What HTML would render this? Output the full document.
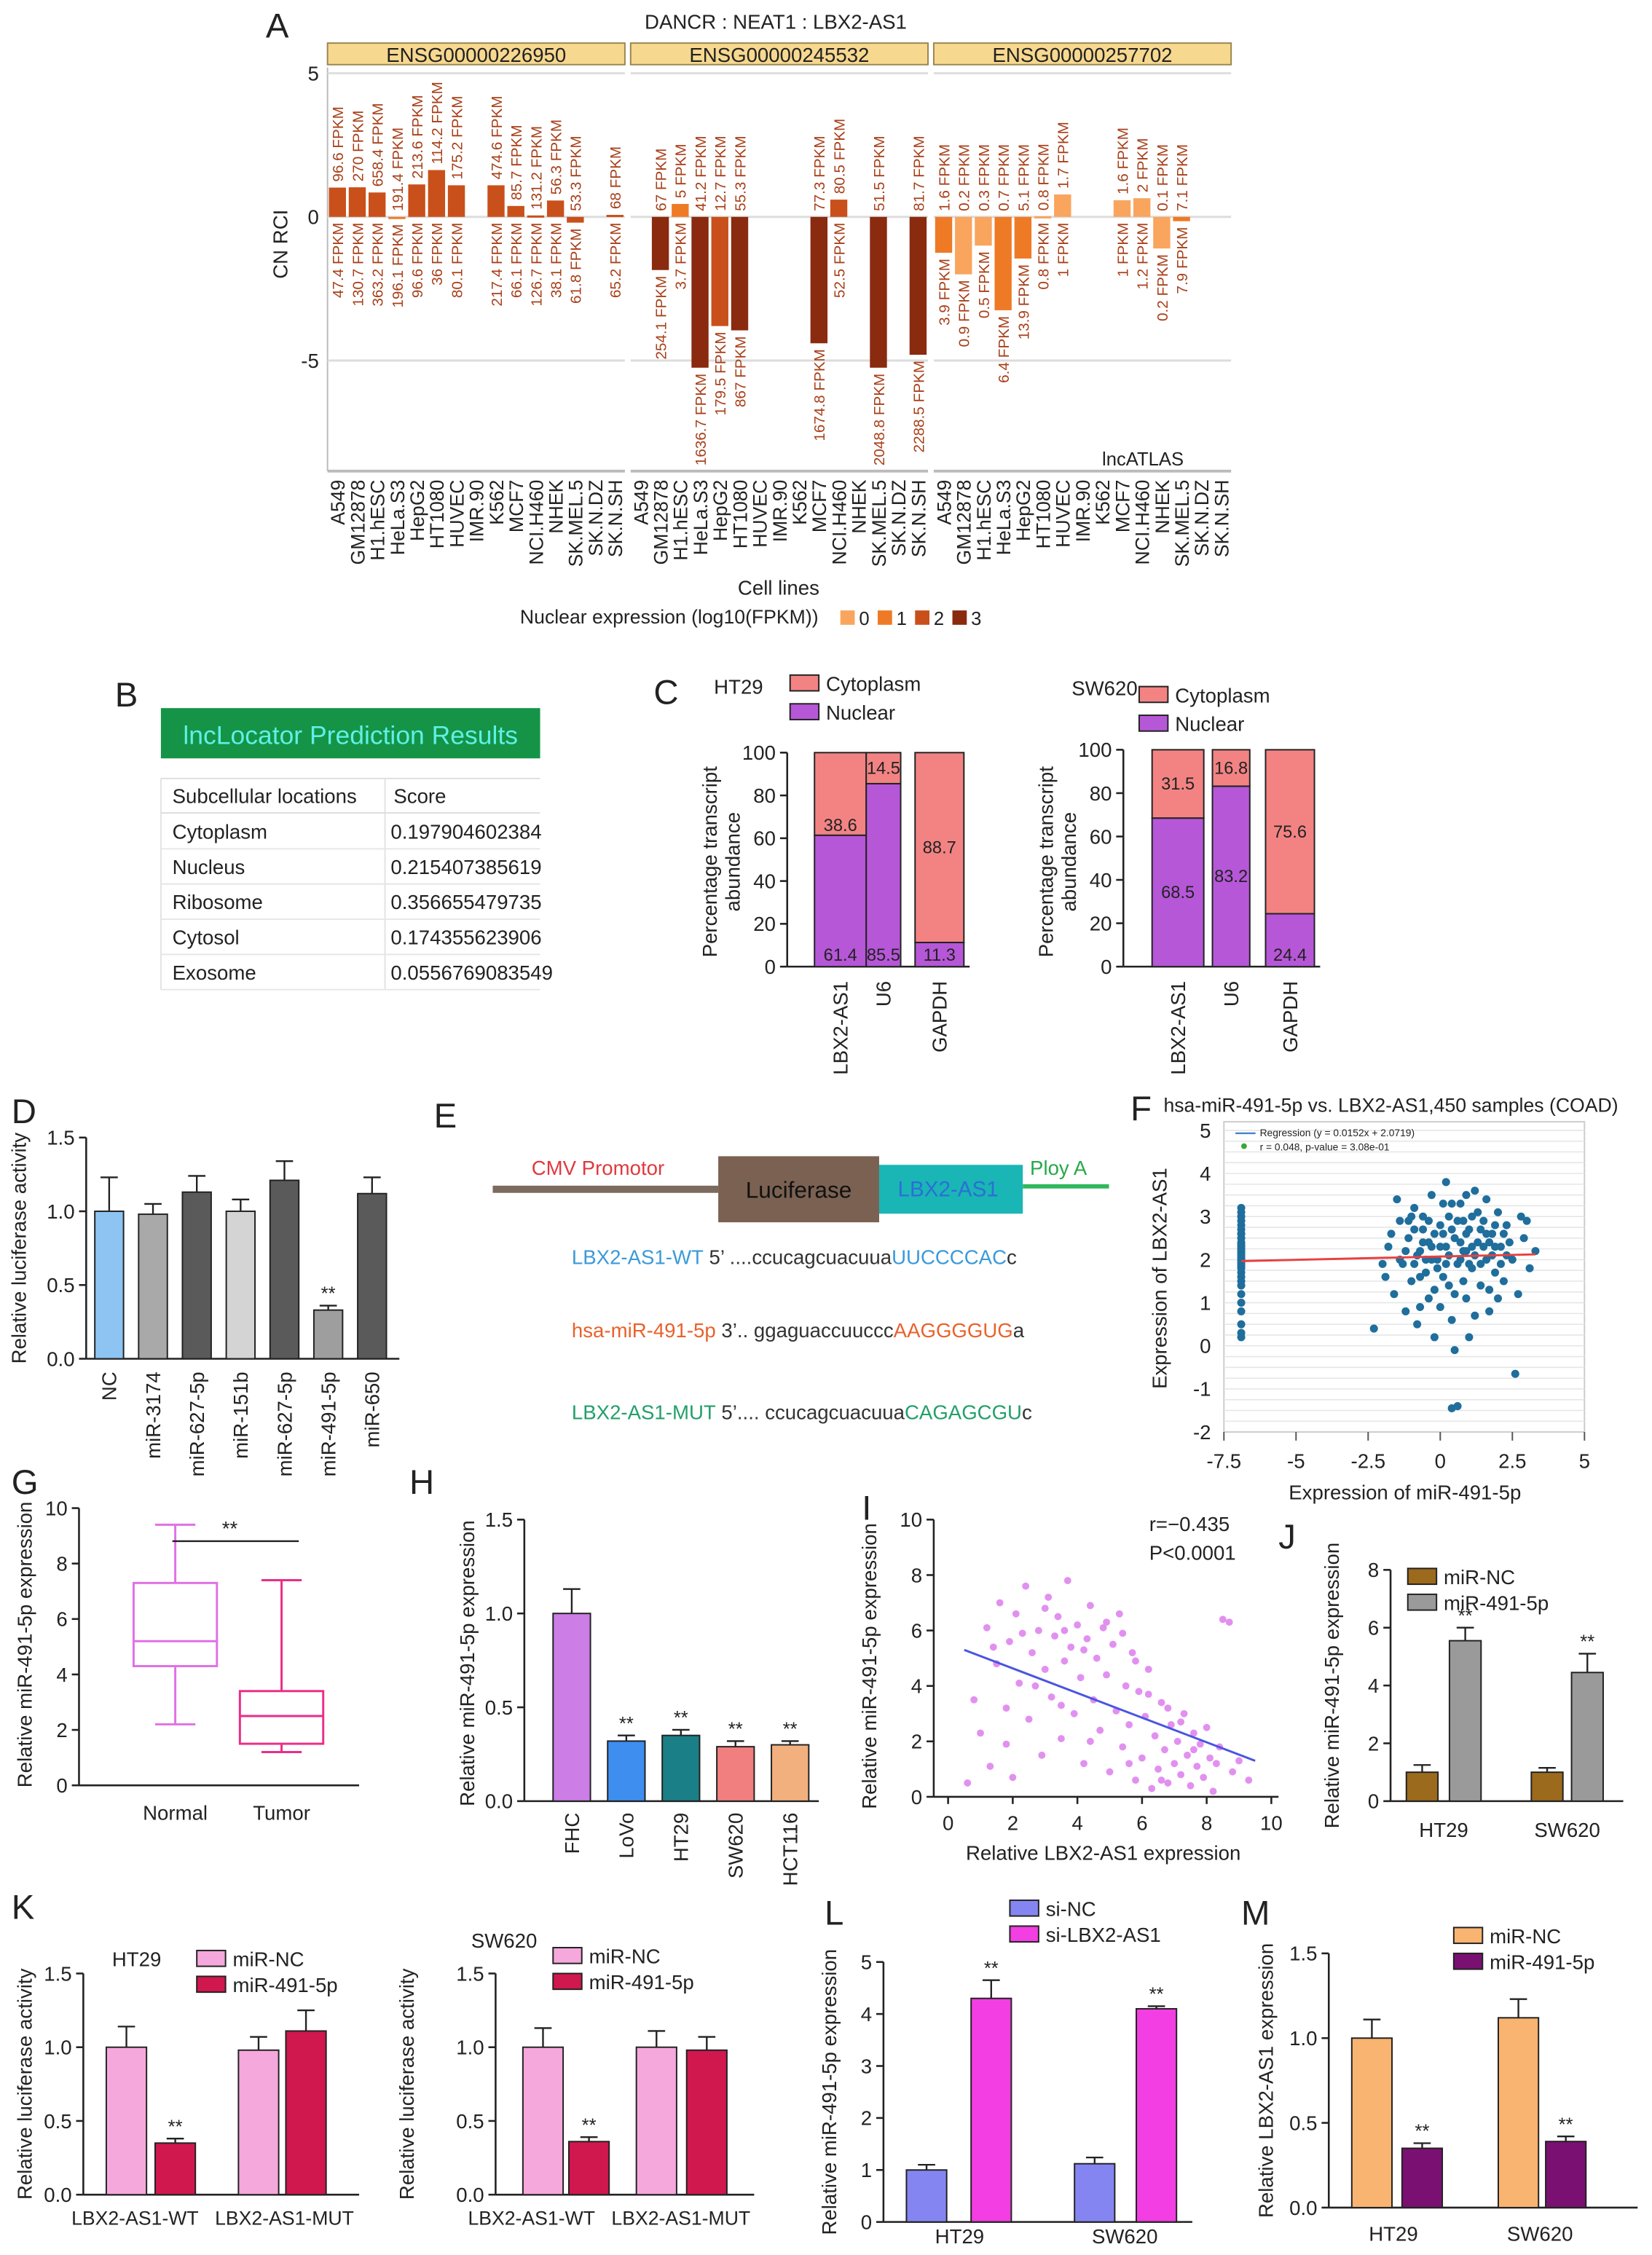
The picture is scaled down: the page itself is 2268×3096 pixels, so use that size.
<!DOCTYPE html>
<html><head><meta charset="utf-8">
<style>
html,body{margin:0;padding:0;background:#fff;}
svg{display:block;font-family:"Liberation Sans",Arial,sans-serif;}
</style></head>
<body>
<svg id="fig" width="2268" height="3096" viewBox="0 0 1150 1570" preserveAspectRatio="none" xmlns="http://www.w3.org/2000/svg">
<rect x="0" y="0" width="1150" height="1570" fill="#fff"/>
</svg>
<script>
// ---------- Panel A data ----------
const aCells = ["A549","GM12878","H1.hESC","HeLa.S3","HepG2","HT1080","HUVEC","IMR.90","K562","MCF7","NCI.H460","NHEK","SK.MEL.5","SK.N.DZ","SK.N.SH"];
const aGenes = ["ENSG00000226950","ENSG00000245532","ENSG00000257702"];
const aVals1 = [1.02,1.03,0.85,-0.05,1.13,1.63,1.1,null,1.1,0.38,0.05,0.57,-0.2,null,0.07];
const aVals2 = [null,-1.85,0.45,-5.25,-3.8,-3.95,null,null,null,-4.4,0.6,null,-5.25,null,-4.8];
const aVals3 = [-1.25,-2.0,-1.0,-3.25,-1.45,0.02,0.78,null,null,0.58,0.65,-1.1,-0.15,null,null];
const aLvl1 = [2,2,2,1,2,2,2,0,2,2,2,2,2,0,2];
const aLvl2 = [0,3,1,3,2,3,0,0,0,3,2,0,3,0,3];
const aLvl3 = [1,0,0,1,1,0,0,0,0,0,0,0,1,0,0];
const aTop1 = ["96.6","270","658.4","191.4","213.6","114.2","175.2","","474.6","85.7","131.2","56.3","53.3","","68"];
const aBot1 = ["47.4","130.7","363.2","196.1","96.6","36","80.1","","217.4","66.1","126.7","38.1","61.8","","65.2"];
const aTop2 = ["","67","5","41.2","12.7","55.3","","","","77.3","80.5","","51.5","","81.7"];
const aBot2 = ["","254.1","3.7","1636.7","179.5","867","","","","1674.8","52.5","","2048.8","","2288.5"];
const aTop3 = ["1.6","0.2","0.3","0.7","5.1","0.8","1.7","","","1.6","2","0.1","7.1","",""];
const aBot3 = ["3.9","0.9","0.5","6.4","13.9","0.8","1","","","1","1.2","0.2","7.9","",""];
const aLevelColors = ["#f9a55e","#ee7a26","#c9501a","#8a2a0f"];
const aYTicks = [5,0,-5];

// ---------- Panel B ----------
const bLocs = ["Cytoplasm","Nucleus","Ribosome","Cytosol","Exosome"];
const bScores = ["0.197904602384","0.215407385619","0.356655479735","0.174355623906","0.0556769083549"];

// ---------- Panel C ----------
const cCats = ["LBX2-AS1","U6","GAPDH"];
const cNucHT29 = [61.4,85.5,11.3];
const cNucSW620 = [68.5,83.2,24.4];
const cTicks = [0,20,40,60,80,100];

// ---------- Panel D ----------
const dCats = ["NC","miR-3174","miR-627-5p","miR-151b","miR-627-5p","miR-491-5p","miR-650"];
const dVals = [1.0,0.98,1.13,1.0,1.21,0.33,1.12];
const dErrs = [0.23,0.07,0.11,0.08,0.13,0.03,0.11];
const dColors = ["#8dc4f2","#a9a9a9","#5a5a5a","#d4d4d4","#5a5a5a","#9e9e9e","#5a5a5a"];
const dTicks = [0,0.5,1.0,1.5];

// ---------- Panel F ----------
const fColumnX = -6.9;
const fColumnY = [3.2,3.0,2.9,2.8,2.7,2.6,2.5,2.4,2.3,2.25,2.2,2.15,2.1,2.05,2.0,1.95,1.9,1.85,1.8,1.7,1.6,1.5,1.4,1.2,1.0,0.8,0.5,0.3,0.2,3.1,2.6,2.35];
const fPoints = [[-2.3,0.4],[-1.8,2.3],[-1.6,1.2],[-1.4,2.9],[-1.3,1.9],[-1.1,2.5],[-1.0,1.5],[-0.9,3.2],[-0.8,2.1],[-0.7,0.9],[-0.6,2.7],[-0.5,1.7],[-0.4,2.4],[-0.3,3.5],[-0.2,1.3],[-0.1,2.0],[0,2.8],[0.1,1.6],[0.2,2.3],[0.3,3.0],[0.4,0.6],[0.5,2.5],[0.6,1.9],[0.7,3.3],[0.8,2.2],[0.9,1.1],[1.0,2.7],[1.1,1.8],[1.2,3.6],[1.3,2.4],[1.4,1.4],[1.5,2.9],[1.6,2.0],[1.7,0.8],[1.8,2.6],[1.9,1.7],[2.0,3.1],[2.1,2.3],[2.2,1.5],[2.3,2.8],[2.5,2.0],[2.7,1.2],[2.9,2.5],[3.1,1.8],[3.3,2.2],[-1.5,3.4],[-0.8,0.5],[0.2,3.8],[0.5,-0.1],[1.0,0.2],[0.4,-1.45],[0.6,-1.4],[2.6,-0.65],[-0.6,3.0],[-0.2,2.6],[0.3,1.4],[0.8,1.5],[1.3,3.1],[1.8,2.1],[-1.2,2.2],[-0.4,1.1],[0.1,2.6],[0.6,2.9],[1.1,2.3],[1.6,2.6],[2.1,1.9],[-0.9,2.7],[-0.1,1.8],[0.9,3.5],[1.4,1.9],[2.4,2.4],[-2.0,1.9],[-1.7,2.6],[0.0,0.9],[1.2,0.7],[2.8,3.0],[-0.3,2.3],[0.7,2.0],[1.5,2.3],[1.9,2.8],[0.3,2.1],[-0.5,2.0],[0.9,2.6],[1.7,1.3],[-1.0,3.0],[0.4,3.3],[2.2,2.6],[1.0,1.9],[-0.7,1.6],[0.5,1.2],[-1.9,1.6],[-1.2,0.8],[0.1,3.3],[1.1,3.0],[2.0,1.1],[3.0,2.9],[-0.2,0.2],[1.6,3.4],[-0.6,2.4],[0.8,2.9],[-1.4,2.0],[-0.9,1.9],[-0.3,2.0],[0.2,1.9],[0.7,2.4],[1.2,2.1],[1.7,2.4],[2.3,2.1],[-1.1,2.9],[0.4,2.7],[1.4,2.7],[-0.4,2.9],[0.9,2.2],[1.9,2.3],[-0.7,2.2],[0.0,2.3]];
const fSlope = 0.0152, fIntercept = 2.0719;
const fYTicks = [5,4,3,2,1,0,-1,-2];
const fXTicks = [-7.5,-5,-2.5,0,2.5,5];

// ---------- Panel G ----------
const gCats = ["Normal","Tumor"];
const gNormal = [2.2,4.3,5.2,7.3,9.4];
const gTumor = [1.2,1.5,2.5,3.4,7.4];
const gTicks = [0,2,4,6,8,10];

// ---------- Panel H ----------
const hCats = ["FHC","LoVo","HT29","SW620","HCT116"];
const hVals = [1.0,0.32,0.35,0.29,0.3];
const hErrs = [0.13,0.03,0.03,0.03,0.02];
const hColors = ["#cc7de6","#3e8ef0","#1a7f86","#f27f7f","#f2b07e"];
const hTicks = [0,0.5,1.0,1.5];

// ---------- Panel I ----------
const iPoints = [[0.6,0.5],[1.0,2.3],[1.2,6.1],[1.3,1.1],[1.5,4.8],[1.6,7.0],[1.8,3.2],[1.9,5.6],[2.0,0.7],[2.1,6.6],[2.2,4.1],[2.4,7.6],[2.5,2.8],[2.6,5.2],[2.8,6.0],[2.9,1.5],[3.0,4.6],[3.1,7.2],[3.2,3.6],[3.3,5.8],[3.4,6.5],[3.5,2.1],[3.6,4.9],[3.7,7.8],[3.8,5.4],[3.9,3.0],[4.0,6.2],[4.1,4.3],[4.2,1.2],[4.3,5.7],[4.4,6.9],[4.5,3.5],[4.6,5.0],[4.7,2.4],[4.8,6.1],[4.9,4.4],[5.0,0.9],[5.1,5.5],[5.2,3.1],[5.3,6.6],[5.4,1.8],[5.5,4.0],[5.6,2.6],[5.7,5.2],[5.8,0.6],[5.9,3.8],[6.0,1.4],[6.1,2.9],[6.2,4.6],[6.3,0.3],[6.4,2.2],[6.5,1.0],[6.6,3.4],[6.7,1.7],[6.8,0.5],[6.9,2.6],[7.0,1.2],[7.1,2.0],[7.2,0.8],[7.3,3.0],[7.4,1.5],[7.5,0.4],[7.6,2.3],[7.7,1.1],[7.8,1.9],[7.9,0.7],[8.0,2.5],[8.1,1.4],[8.2,0.2],[8.4,1.8],[8.5,6.4],[8.7,6.3],[8.8,0.9],[9.0,1.3],[9.3,0.6],[2.3,5.9],[3.0,6.8],[3.6,6.0],[4.2,5.3],[4.9,6.3],[5.4,5.9],[5.8,4.9],[6.2,3.7],[6.8,3.2],[7.2,2.7],[1.4,5.4],[2.7,4.0],[3.5,3.3],[4.4,2.0],[5.6,1.2],[6.6,0.6],[7.6,1.7],[8.3,1.2],[0.8,3.5],[1.8,1.9]];
const iLine = [[0.5,5.3],[9.5,1.3]];
const iTicks = [0,2,4,6,8,10];

// ---------- Panel J ----------
const jCats = ["HT29","SW620"];
const jNC = [1.0,1.0], jNCErr = [0.25,0.15];
const jMiR = [5.55,4.45], jMiRErr = [0.45,0.65];
const jTicks = [0,2,4,6,8];

// ---------- Panel K ----------
const kCats = ["LBX2-AS1-WT","LBX2-AS1-MUT"];
const kHT29NC = [1.0,0.98], kHT29NCErr = [0.14,0.09];
const kHT29MiR = [0.35,1.11], kHT29MiRErr = [0.03,0.14];
const kSWNC = [1.0,1.0], kSWNCErr = [0.13,0.11];
const kSWMiR = [0.36,0.98], kSWMiRErr = [0.03,0.09];
const kTicks = [0,0.5,1.0,1.5];

// ---------- Panel L ----------
const lCats = ["HT29","SW620"];
const lNC = [1.0,1.12], lNCErr = [0.1,0.12];
const lSi = [4.3,4.1], lSiErr = [0.35,0.05];
const lTicks = [0,1,2,3,4,5];

// ---------- Panel M ----------
const mCats = ["HT29","SW620"];
const mNC = [1.0,1.12], mNCErr = [0.11,0.11];
const mMiR = [0.35,0.39], mMiRErr = [0.03,0.03];
const mTicks = [0,0.5,1.0,1.5];

// ================= helpers =================
const NS = 'http://www.w3.org/2000/svg';
const svg = document.getElementById('fig');
function mk(tag, attrs, name) {
  const el = document.createElementNS(NS, tag);
  for (const k in attrs) el.setAttribute(k, attrs[k]);
  
  
  svg.appendChild(el);
  return el;
}
function txt(x, y, s, o, name) {
  o = o || {};
  const a = {x: x, y: y, 'font-size': o.size || 13, fill: o.fill || '#222', 'text-anchor': o.anchor || 'start'};
  if (o.weight) a['font-weight'] = o.weight;
  if (o.rot !== undefined) a.transform = 'rotate(' + o.rot + ' ' + x + ' ' + y + ')';
  const el = mk('text', a, name);
  el.textContent = s;
  return el;
}
function line(x1, y1, x2, y2, stroke, w, name, dash) {
  const a = {x1: x1, y1: y1, x2: x2, y2: y2, stroke: stroke, 'stroke-width': w};
  if (dash) a['stroke-dasharray'] = dash;
  return mk('line', a, name);
}
function scale(d0, d1, r0, r1) { return v => r0 + (v - d0) / (d1 - d0) * (r1 - r0); }
function yAxis(x, sy, ticks, fmt, name) {
  line(x, sy(ticks[0]), x, sy(ticks[ticks.length - 1]), '#222', 1.3, name + '-line');
  ticks.forEach(t => {
    line(x - 5, sy(t), x, sy(t), '#222', 1.3, name + '-tick');
    txt(x - 8, sy(t) + 5, fmt(t), {anchor: 'end', size: 14}, name + '-tick-label');
  });
}
function bar(cx, w, sy, v, color, name) {
  const y0 = sy(0), y1 = sy(v);
  return mk('rect', {x: cx - w / 2, y: Math.min(y0, y1), width: w, height: Math.abs(y0 - y1), fill: color, stroke: '#222', 'stroke-width': 1}, name);
}
function err(cx, sy, v, e, name) {
  line(cx, sy(v), cx, sy(v + e), '#222', 1.2, name);
  line(cx - 6, sy(v + e), cx + 6, sy(v + e), '#222', 1.2, name + '-cap');
}
function legendBox(x, y, color, label, name) {
  mk('rect', {x: x, y: y, width: 20, height: 11, fill: color, stroke: '#222', 'stroke-width': 1}, name + '-swatch');
  txt(x + 25, y + 11, label, {size: 14}, name + '-label');
}
function panelLetter(x, y, s) { txt(x, y, s, {size: 24}, 'panel-label-' + s.toLowerCase()); }
const fmt1 = t => t.toFixed(1);
const fmt0 = t => String(t);

// ================= Panel A =================
panelLetter(185, 26, 'A');
txt(540, 20, 'DANCR : NEAT1 : LBX2-AS1', {anchor: 'middle', size: 14}, 'panel-a-title');
const aGroupX = [228, 439, 650], aGroupW = 207, aSlot = aGroupW / 15;
const aY = scale(0, 5, 151, 51);
const aValsAll = [aVals1, aVals2, aVals3], aLvlAll = [aLvl1, aLvl2, aLvl3];
const aTopAll = [aTop1, aTop2, aTop3], aBotAll = [aBot1, aBot2, aBot3];
line(228, 47, 228, 328, '#bbb', 1, 'panel-a-left-border');
aYTicks.forEach(t => {
  txt(222, aY(t) + 5, String(t), {anchor: 'end', size: 14}, 'panel-a-y-tick-label');
});
txt(200, 170, 'CN RCI', {anchor: 'middle', size: 14, rot: -90}, 'panel-a-y-axis-title');
aGenes.forEach((g, gi) => {
  const gx = aGroupX[gi];
  mk('rect', {x: gx, y: 30, width: aGroupW, height: 15, fill: '#f7d88f', stroke: '#9a8650', 'stroke-width': 1}, 'gene-header');
  txt(gx + aGroupW / 2, 43, g, {anchor: 'middle', size: 14}, 'gene-header-label');
  line(gx, aY(5), gx + aGroupW, aY(5), '#ddd', 1.5, 'grid-line-5');
  line(gx, aY(0), gx + aGroupW, aY(0), '#ddd', 1.5, 'grid-line-0');
  line(gx, aY(-5), gx + aGroupW, aY(-5), '#ddd', 1.5, 'grid-line-minus5');
  line(gx, 328, gx + aGroupW, 328, '#bbb', 2, 'panel-a-x-axis');
  aCells.forEach((c, ci) => {
    const cx = gx + (ci + 0.5) * aSlot;
    const v = aValsAll[gi][ci];
    if (v !== null) {
      const y0 = aY(0), y1 = aY(v);
      mk('rect', {x: cx - aSlot * 0.43, y: Math.min(y0, y1), width: aSlot * 0.86, height: Math.max(1.5, Math.abs(y0 - y1)), fill: aLevelColors[aLvlAll[gi][ci]]}, 'bar-' + c.toLowerCase());
      const tl = aTopAll[gi][ci], bl = aBotAll[gi][ci];
      if (tl) txt(cx + 4, aY(Math.max(v, 0)) - 4, tl + ' FPKM', {size: 10.5, fill: '#a8401a', rot: -90}, 'top-fpkm-label');
      if (bl) txt(cx + 4, aY(Math.min(v, 0)) + 4, bl + ' FPKM', {size: 10.5, fill: '#a8401a', rot: -90, anchor: 'end'}, 'bottom-fpkm-label');
    }
    txt(cx + 5, 334, c, {size: 13.5, rot: -90, anchor: 'end'}, 'cell-line-label');
  });
});
txt(824, 324, 'lncATLAS', {anchor: 'end', size: 13}, 'lncatlas-watermark');
txt(542, 414, 'Cell lines', {anchor: 'middle', size: 14}, 'panel-a-x-axis-title');
txt(362, 434, 'Nuclear expression (log10(FPKM))', {size: 13.5}, 'panel-a-legend-title');
aLevelColors.forEach((col, i) => {
  mk('rect', {x: 585 + i * 26, y: 425, width: 10, height: 10, fill: col}, 'legend-swatch-level-' + i);
  txt(598 + i * 26, 435, String(i), {size: 13}, 'legend-level-label');
});

// ================= Panel B =================
panelLetter(80, 492, 'B');
mk('rect', {x: 112, y: 493, width: 264, height: 35, fill: '#159447'}, 'lnclocator-banner');
txt(244, 518, 'lncLocator Prediction Results', {anchor: 'middle', size: 18, fill: '#5ff0e6'}, 'lnclocator-banner-title');
line(112, 542, 376, 542, '#ddd', 1, 'table-top-border');
line(268, 542, 268, 689, '#e3e3e3', 1, 'table-column-divider');
line(112, 542, 112, 689, '#e3e3e3', 1, 'table-left-border');
txt(120, 559, 'Subcellular locations', {size: 14}, 'table-header-location');
txt(274, 559, 'Score', {size: 14}, 'table-header-score');
line(112, 566, 376, 566, '#ddd', 1, 'table-header-divider');
bLocs.forEach((loc, i) => {
  const y = 584 + i * 24.5;
  txt(120, y, loc, {size: 14}, 'table-row-location');
  txt(272, y, bScores[i], {size: 14}, 'table-row-score');
  line(112, y + 7, 376, y + 7, '#e6e6e6', 1, 'table-row-divider');
});

// ================= Panel C =================
panelLetter(455, 490, 'C');
function stacked(ax, yTop, centers, widths, nuc, label, legX, legY, titleX, titleY, ylabX, nucBottom) {
  const sy = scale(0, 100, 673, yTop);
  yAxis(ax, sy, cTicks, fmt0, label + '-y-axis');
  line(ax, 673, centers[2] + widths[2] / 2 + 4, 673, '#222', 1.3, label + '-x-axis');
  cCats.forEach((c, i) => {
    const cx = centers[i], w = widths[i];
    const cyto = 100 - nuc[i];
    mk('rect', {x: cx - w / 2, y: sy(nuc[i]), width: w, height: sy(0) - sy(nuc[i]), fill: '#b657d8', stroke: '#222', 'stroke-width': 1}, label + '-nuclear-bar');
    mk('rect', {x: cx - w / 2, y: sy(100), width: w, height: sy(nuc[i]) - sy(100), fill: '#f38383', stroke: '#222', 'stroke-width': 1}, label + '-cytoplasm-bar');
    const ny = (nucBottom || nuc[i] < 30) ? sy(0) - 4 : sy(nuc[i] / 2) + 4;
    txt(cx, ny, nuc[i].toFixed(1), {anchor: 'middle', size: 12}, label + '-nuclear-value');
    const cyy = (nucBottom && cyto > 25 && cyto < 50) ? sy(nuc[i]) - 3 : sy(nuc[i] + cyto / 2) + 4;
    txt(cx, cyy, cyto.toFixed(1), {anchor: 'middle', size: 12}, label + '-cytoplasm-value');
    txt(cx + 5, 683, c, {size: 14, rot: -90, anchor: 'end'}, label + '-category-label');
  });
  txt(titleX, titleY, label, {size: 14}, label + '-title');
  legendBox(legX, legY, '#f38383', 'Cytoplasm', label + '-legend-cytoplasm');
  legendBox(legX, legY + 20, '#b657d8', 'Nuclear', label + '-legend-nuclear');
  txt(ylabX, 600, 'Percentage transcript', {anchor: 'middle', size: 14, rot: -90}, label + '-y-axis-title');
  txt(ylabX + 16, 600, 'abundance', {anchor: 'middle', size: 14, rot: -90}, label + '-y-axis-title-2');
}
stacked(548, 524, [585, 615, 654], [36, 24, 34], cNucHT29, 'HT29', 550, 470, 497, 483, 499, true);
stacked(782, 522, [820, 857, 898], [36, 26, 34], cNucSW620, 'SW620', 793, 478, 746, 484, 733, false);

// ================= Panel D =================
panelLetter(8, 782, 'D');
const dY = scale(0, 1.5, 946, 792);
yAxis(60, dY, dTicks, fmt1, 'panel-d-y-axis');
line(60, 946, 278, 946, '#222', 1.3, 'panel-d-x-axis');
dCats.forEach((c, i) => {
  const cx = 76 + i * 30.5;
  bar(cx, 20, dY, dVals[i], dColors[i], 'panel-d-bar');
  err(cx, dY, dVals[i], dErrs[i], 'panel-d-error-bar');
  txt(cx + 5, 955, c, {size: 14, rot: -90, anchor: 'end'}, 'panel-d-category-label');
});
txt(76 + 5 * 30.5, dY(0.33 + 0.03) - 4, '**', {anchor: 'middle', size: 13}, 'panel-d-significance');
txt(18, 869, 'Relative luciferase activity', {anchor: 'middle', size: 14, rot: -90}, 'panel-d-y-axis-title');

// ================= Panel E =================
panelLetter(302, 785, 'E');
line(343, 828, 500, 828, '#7d6a5e', 5, 'cmv-promoter-line');
txt(370, 818, 'CMV Promotor', {size: 14, fill: '#e0393e'}, 'cmv-promoter-label');
mk('rect', {x: 500, y: 805, width: 112, height: 46, fill: '#7a6152'}, 'luciferase-box');
txt(556, 834, 'Luciferase', {anchor: 'middle', size: 16, fill: '#111'}, 'luciferase-label');
mk('rect', {x: 612, y: 811, width: 100, height: 34, fill: '#1ab5b5'}, 'lbx2-as1-box');
txt(660, 833, 'LBX2-AS1', {anchor: 'middle', size: 15, fill: '#2a6fd6'}, 'lbx2-as1-box-label');
line(712, 826, 772, 826, '#2fb85a', 3, 'poly-a-line');
txt(717, 818, 'Ploy A', {size: 14, fill: '#28a84a'}, 'poly-a-label');
function seq(y, parts, name) {
  const t = mk('text', {x: 398, y: y, 'font-size': 14}, name);
  parts.forEach(p => {
    const s = document.createElementNS(NS, 'tspan');
    s.setAttribute('fill', p[1]);
    
    
    s.textContent = p[0];
    t.appendChild(s);
  });
}
seq(880, [['LBX2-AS1-WT', '#3a9ad9'], [' 5\u2019 ....ccucagcuacuua', '#333'], ['UUCCCCAC', '#3a9ad9'], ['c', '#333']], 'wt-sequence');
seq(931, [['hsa-miR-491-5p', '#e8622c'], [' 3\u2019.. ggaguaccuuccc', '#333'], ['AAGGGGUG', '#e8622c'], ['a', '#333']], 'mirna-sequence');
seq(988, [['LBX2-AS1-MUT', '#22a06a'], [' 5\u2019.... ccucagcuacuua', '#333'], ['CAGAGCGU', '#22a06a'], ['c', '#333']], 'mut-sequence');

// ================= Panel F =================
panelLetter(787, 780, 'F');
txt(810, 774, 'hsa-miR-491-5p vs. LBX2-AS1,450 samples (COAD)', {size: 13.5}, 'panel-f-title');
const fX = scale(-7.5, 5, 852, 1103), fY = scale(-2, 5, 997, 787);
mk('rect', {x: 852, y: 781, width: 251, height: 216, fill: '#fff', stroke: '#ccc', 'stroke-width': 1}, 'panel-f-plot-area');
for (let g = 0; g < 28; g++) line(852, 787 + g * 7.5, 1103, 787 + g * 7.5, '#e6e6e6', 0.8, 'panel-f-grid-line');
fYTicks.forEach(t => txt(843, fY(t) + 5, String(t), {anchor: 'end', size: 14}, 'panel-f-y-tick-label'));
fXTicks.forEach(t => {
  line(fX(t), 997, fX(t), 1003, '#555', 1, 'panel-f-x-tick');
  txt(fX(t), 1022, String(t), {anchor: 'middle', size: 14}, 'panel-f-x-tick-label');
});
line(860, 789, 874, 789, '#4a7fd0', 1.2, 'panel-f-legend-line');
txt(877, 791, 'Regression (y = 0.0152x + 2.0719)', {size: 7}, 'panel-f-legend-regression');
mk('circle', {cx: 866, cy: 798, r: 2, fill: '#3aa83a'}, 'panel-f-legend-dot');
txt(877, 801, 'r = 0.048, p-value = 3.08e-01', {size: 7}, 'panel-f-legend-stats');
fColumnY.forEach(v => mk('circle', {cx: fX(fColumnX), cy: fY(v), r: 2.8, fill: '#1f6e9c'}, 'panel-f-point'));
fPoints.forEach(p => mk('circle', {cx: fX(p[0]), cy: fY(p[1]), r: 2.8, fill: '#1f6e9c'}, 'panel-f-point'));
line(fX(-6.9), fY(fSlope * -6.9 + fIntercept), fX(3.3), fY(fSlope * 3.3 + fIntercept), '#e84040', 1.5, 'panel-f-regression-line');
txt(812, 890, 'Expression of LBX2-AS1', {anchor: 'middle', size: 14, rot: -90}, 'panel-f-y-axis-title');
txt(978, 1044, 'Expression of miR-491-5p', {anchor: 'middle', size: 14}, 'panel-f-x-axis-title');

// ================= Panel G =================
panelLetter(8, 1040, 'G');
const gY = scale(0, 10, 1243, 1050);
yAxis(55, gY, gTicks, fmt0, 'panel-g-y-axis');
line(55, 1243, 250, 1243, '#222', 1.3, 'panel-g-x-axis');
function box(cx, d, color, name) {
  line(cx, gY(d[0]), cx, gY(d[1]), color, 1.5, name + '-lower-whisker');
  line(cx, gY(d[3]), cx, gY(d[4]), color, 1.5, name + '-upper-whisker');
  line(cx - 14, gY(d[0]), cx + 14, gY(d[0]), color, 1.5, name + '-min-cap');
  line(cx - 14, gY(d[4]), cx + 14, gY(d[4]), color, 1.5, name + '-max-cap');
  mk('rect', {x: cx - 29, y: gY(d[3]), width: 58, height: gY(d[1]) - gY(d[3]), fill: 'none', stroke: color, 'stroke-width': 1.5}, name + '-box');
  line(cx - 29, gY(d[2]), cx + 29, gY(d[2]), color, 1.5, name + '-median');
}
box(122, gNormal, '#e070e6', 'normal');
box(196, gTumor, '#ea2e88', 'tumor');
txt(122, 1267, gCats[0], {anchor: 'middle', size: 14}, 'panel-g-category-label');
txt(196, 1267, gCats[1], {anchor: 'middle', size: 14}, 'panel-g-category-label');
line(120, 1073, 208, 1073, '#222', 1.2, 'panel-g-significance-line');
txt(160, 1069, '**', {anchor: 'middle', size: 14}, 'panel-g-significance');
txt(22, 1145, 'Relative miR-491-5p expression', {anchor: 'middle', size: 14, rot: -90}, 'panel-g-y-axis-title');

// ================= Panel H =================
panelLetter(285, 1040, 'H');
const hY = scale(0, 1.5, 1254, 1058);
yAxis(365, hY, hTicks, fmt1, 'panel-h-y-axis');
line(365, 1254, 570, 1254, '#222', 1.3, 'panel-h-x-axis');
hCats.forEach((c, i) => {
  const cx = 398 + i * 38;
  bar(cx, 26, hY, hVals[i], hColors[i], 'panel-h-bar');
  err(cx, hY, hVals[i], hErrs[i], 'panel-h-error-bar');
  if (i > 0) txt(cx, hY(hVals[i] + hErrs[i]) - 4, '**', {anchor: 'middle', size: 13}, 'panel-h-significance');
  txt(cx + 5, 1262, c, {size: 14, rot: -90, anchor: 'end'}, 'panel-h-category-label');
});
txt(330, 1158, 'Relative miR-491-5p expression', {anchor: 'middle', size: 14, rot: -90}, 'panel-h-y-axis-title');

// ================= Panel I =================
panelLetter(600, 1058, 'I');
const iX = scale(0, 10, 660, 885), iY = scale(0, 10, 1251, 1058);
yAxis(650, iY, iTicks, fmt0, 'panel-i-y-axis');
line(650, 1251, 890, 1251, '#222', 1.3, 'panel-i-x-axis');
iTicks.forEach(t => {
  line(iX(t), 1251, iX(t), 1256, '#222', 1.3, 'panel-i-x-tick');
  txt(iX(t), 1274, String(t), {anchor: 'middle', size: 14}, 'panel-i-x-tick-label');
});
iPoints.forEach(p => mk('circle', {cx: iX(p[0]), cy: iY(p[1]), r: 2.5, fill: '#e290f0'}, 'panel-i-point'));
line(iX(iLine[0][0]), iY(iLine[0][1]), iX(iLine[1][0]), iY(iLine[1][1]), '#4a55e0', 1.5, 'panel-i-regression-line');
txt(800, 1066, 'r=\u22120.435', {size: 14}, 'panel-i-r-value');
txt(800, 1086, 'P<0.0001', {size: 14}, 'panel-i-p-value');
txt(610, 1160, 'Relative miR-491-5p expression', {anchor: 'middle', size: 14, rot: -90}, 'panel-i-y-axis-title');
txt(768, 1295, 'Relative LBX2-AS1 expression', {anchor: 'middle', size: 14}, 'panel-i-x-axis-title');

// ================= grouped bar helper =================
function grouped(cfg) {
  const sy = scale(0, cfg.ticks[cfg.ticks.length - 1], cfg.yb, cfg.yt);
  yAxis(cfg.ax, sy, cfg.ticks, cfg.fmt, cfg.name + '-y-axis');
  line(cfg.ax, cfg.yb, cfg.xEnd, cfg.yb, '#222', 1.3, cfg.name + '-x-axis');
  cfg.cats.forEach((c, i) => {
    const c1 = cfg.centers[i][0], c2 = cfg.centers[i][1];
    bar(c1, cfg.bw, sy, cfg.a[i], cfg.colA, cfg.name + '-control-bar');
    err(c1, sy, cfg.a[i], cfg.aErr[i], cfg.name + '-control-error');
    bar(c2, cfg.bw, sy, cfg.b[i], cfg.colB, cfg.name + '-treatment-bar');
    err(c2, sy, cfg.b[i], cfg.bErr[i], cfg.name + '-treatment-error');
    if (cfg.stars[i]) txt(c2, sy(cfg.b[i] + cfg.bErr[i]) - 4, '**', {anchor: 'middle', size: 13}, cfg.name + '-significance');
    txt(cfg.labelX[i], cfg.labelY, c, {anchor: 'middle', size: cfg.labelSize || 14}, cfg.name + '-category-label');
  });
  legendBox(cfg.legX, cfg.legY, cfg.colA, cfg.legA, cfg.name + '-legend-control');
  legendBox(cfg.legX, cfg.legY + 18, cfg.colB, cfg.legB, cfg.name + '-legend-treatment');
  txt(cfg.ylabX, (cfg.yb + cfg.yt) / 2, cfg.ylab, {anchor: 'middle', size: 14, rot: -90}, cfg.name + '-y-axis-title');
}

// ================= Panel J =================
panelLetter(890, 1078, 'J');
grouped({name: 'panel-j', cats: jCats, a: jNC, aErr: jNCErr, b: jMiR, bErr: jMiRErr, ticks: jTicks, fmt: fmt0,
  ax: 968, yb: 1254, yt: 1093, xEnd: 1130, centers: [[990, 1020], [1077, 1105]], bw: 22,
  colA: '#9c6a1c', colB: '#9a9a9a', stars: [1, 1], labelX: [1005, 1091], labelY: 1279,
  legX: 980, legY: 1092, legA: 'miR-NC', legB: 'miR-491-5p', ylabX: 932, ylab: 'Relative miR-491-5p expression'});

// ================= Panel K =================
panelLetter(8, 1336, 'K');
txt(78, 1369, 'HT29', {size: 14}, 'panel-k-ht29-title');
grouped({name: 'panel-k-ht29', cats: kCats, a: kHT29NC, aErr: kHT29NCErr, b: kHT29MiR, bErr: kHT29MiRErr, ticks: kTicks, fmt: fmt1,
  ax: 58, yb: 1528, yt: 1374, xEnd: 250, centers: [[88, 122], [180, 213]], bw: 28,
  colA: '#f5a8dc', colB: '#d0174e', stars: [1, 0], labelX: [94, 198], labelY: 1549, labelSize: 13.5,
  legX: 137, legY: 1358, legA: 'miR-NC', legB: 'miR-491-5p', ylabX: 22, ylab: 'Relative luciferase activity'});
txt(328, 1356, 'SW620', {size: 14}, 'panel-k-sw620-title');
grouped({name: 'panel-k-sw620', cats: kCats, a: kSWNC, aErr: kSWNCErr, b: kSWMiR, bErr: kSWMiRErr, ticks: kTicks, fmt: fmt1,
  ax: 345, yb: 1528, yt: 1374, xEnd: 525, centers: [[378, 410], [457, 492]], bw: 28,
  colA: '#f5a8dc', colB: '#d0174e', stars: [1, 0], labelX: [370, 474], labelY: 1549, labelSize: 13.5,
  legX: 385, legY: 1356, legA: 'miR-NC', legB: 'miR-491-5p', ylabX: 288, ylab: 'Relative luciferase activity'});

// ================= Panel L =================
panelLetter(574, 1340, 'L');
grouped({name: 'panel-l', cats: lCats, a: lNC, aErr: lNCErr, b: lSi, bErr: lSiErr, ticks: lTicks, fmt: fmt0,
  ax: 615, yb: 1547, yt: 1366, xEnd: 830, centers: [[645, 690], [762, 805]], bw: 28,
  colA: '#8585f2', colB: '#f23ee2', stars: [1, 1], labelX: [668, 783], labelY: 1562,
  legX: 703, legY: 1323, legA: 'si-NC', legB: 'si-LBX2-AS1', ylabX: 582, ylab: 'Relative miR-491-5p expression'});

// ================= Panel M =================
panelLetter(864, 1340, 'M');
grouped({name: 'panel-m', cats: mCats, a: mNC, aErr: mNCErr, b: mMiR, bErr: mMiRErr, ticks: mTicks, fmt: fmt1,
  ax: 925, yb: 1537, yt: 1360, xEnd: 1140, centers: [[955, 990], [1057, 1090]], bw: 28,
  colA: '#f8b470', colB: '#7a1072', stars: [1, 1], labelX: [970, 1072], labelY: 1560,
  legX: 1012, legY: 1342, legA: 'miR-NC', legB: 'miR-491-5p', ylabX: 886, ylab: 'Relative LBX2-AS1 expression'});
</script>
</body></html>
